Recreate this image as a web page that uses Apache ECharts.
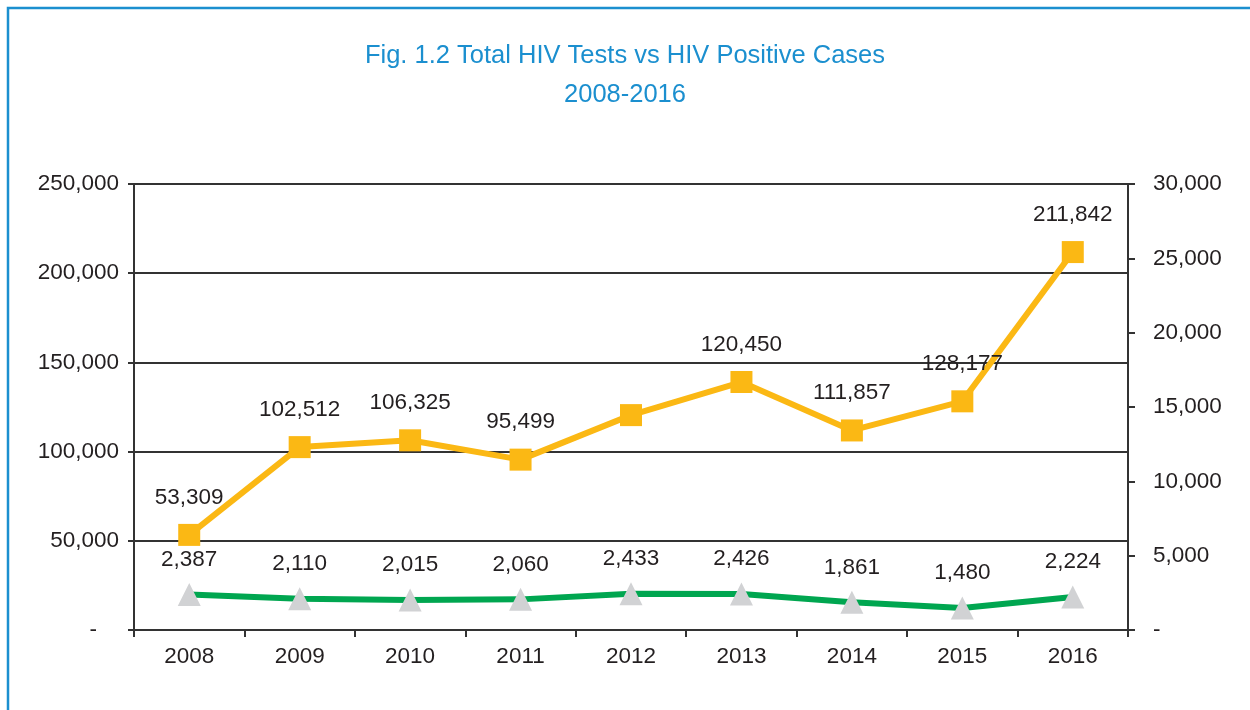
<!DOCTYPE html>
<html>
<head>
<meta charset="utf-8">
<title>Total HIV Tests vs HIV Positive Cases</title>
<script src="https://cdn.jsdelivr.net/npm/echarts@6/dist/echarts.min.js"></script>
<style>
  html, body { margin: 0; padding: 0; background: #fff; }
  #chart { width: 1250px; height: 710px; }
</style>
</head>
<body>
<div id="chart"></div>
<script>
// data
var years = ["2008", "2009", "2010", "2011", "2012", "2013", "2014", "2015", "2016"];
var totalTests = [53309, 102512, 106325, 95499, 120450, 139000, 111857, 128177, 211842];
// labels as printed in the figure (2012 has none, 2013 shows 120,450)
var testLabels = ["53,309", "102,512", "106,325", "95,499", "", "120,450", "111,857", "128,177", "211,842"];
var positiveCases = [2387, 2110, 2015, 2060, 2433, 2426, 1861, 1480, 2224];

var font = "'Liberation Sans', Arial, sans-serif";
var textColor = "#231f20";
var axisColor = "#333333";
var titleColor = "#1b8fcf";

var myChart = echarts.init(document.getElementById("chart"));
var option = {
  animation: false,
  backgroundColor: "#fff",
  textStyle: { fontFamily: font },
  graphic: [
    {
      type: "rect",
      shape: { x: 8, y: 8, width: 1300, height: 800 },
      style: { fill: "none", stroke: titleColor, lineWidth: 2.5 },
      silent: true
    }
  ],
  title: [
    {
      text: "Fig. 1.2 Total HIV Tests vs HIV Positive Cases",
      left: "center",
      top: 43,
      padding: 0,
      textStyle: { color: titleColor, fontSize: 25.5, fontWeight: "normal", fontFamily: font }
    },
    {
      text: "2008-2016",
      left: "center",
      top: 82,
      padding: 0,
      textStyle: { color: titleColor, fontSize: 25.5, fontWeight: "normal", fontFamily: font }
    }
  ],
  grid: { left: 134, right: 122, top: 184, bottom: 80 },
  xAxis: {
    type: "category",
    data: years,
    boundaryGap: true,
    axisLine: { lineStyle: { color: axisColor, width: 2 } },
    axisTick: { show: true, interval: 0, length: 7, lineStyle: { color: axisColor, width: 2 } },
    axisLabel: { fontSize: 22.5, color: textColor, margin: 15, fontFamily: font },
    splitLine: { show: false }
  },
  yAxis: [
    {
      type: "value",
      min: 0,
      max: 250000,
      interval: 50000,
      position: "left",
      axisLine: { show: true, lineStyle: { color: axisColor, width: 2 } },
      axisTick: { show: true, length: 6, lineStyle: { color: axisColor, width: 2 } },
      axisLabel: {
        fontSize: 22.5,
        color: textColor,
        margin: 15,
        fontFamily: font,
        formatter: function (v) {
          return v === 0 ? "{dash|-}" : v.toLocaleString("en-US");
        },
        rich: { dash: { fontSize: 22.5, color: textColor, padding: [0, 22, 0, 0] } }
      },
      splitLine: { show: true, lineStyle: { color: axisColor, width: 2 } }
    },
    {
      type: "value",
      min: 0,
      max: 30000,
      interval: 5000,
      position: "right",
      axisLine: { show: true, lineStyle: { color: axisColor, width: 2 } },
      axisTick: { show: true, length: 7, lineStyle: { color: axisColor, width: 2 } },
      axisLabel: {
        fontSize: 22.5,
        color: textColor,
        margin: 25,
        fontFamily: font,
        formatter: function (v) {
          return v === 0 ? "-" : v.toLocaleString("en-US");
        }
      },
      splitLine: { show: false }
    }
  ],
  series: [
    {
      name: "Total HIV Tests",
      type: "line",
      yAxisIndex: 0,
      data: totalTests,
      symbol: "rect",
      symbolSize: 22,
      itemStyle: { color: "#fbb814" },
      lineStyle: { color: "#fbb814", width: 6 },
      label: {
        show: true,
        position: "top",
        distance: 15,
        fontSize: 22.5,
        color: textColor,
        fontFamily: font,
        formatter: function (p) { return testLabels[p.dataIndex]; }
      },
      z: 3
    },
    {
      name: "HIV Positive Cases",
      type: "line",
      yAxisIndex: 1,
      data: positiveCases,
      symbol: "triangle",
      symbolSize: 23,
      itemStyle: { color: "#d1d2d4" },
      lineStyle: { color: "#00a650", width: 6 },
      label: {
        show: true,
        position: "top",
        distance: 12,
        fontSize: 22.5,
        color: textColor,
        fontFamily: font,
        formatter: function (p) { return p.value.toLocaleString("en-US"); }
      },
      z: 3
    }
  ]
};
myChart.setOption(option);
</script>
</body>
</html>
